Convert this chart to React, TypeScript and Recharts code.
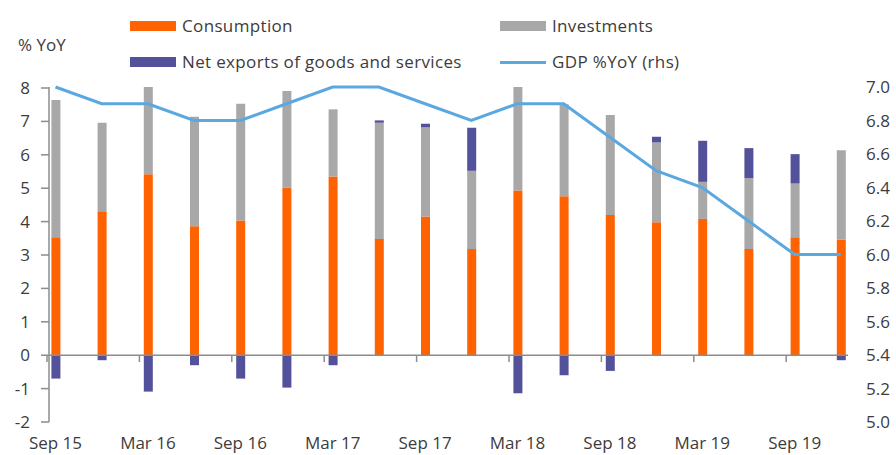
import React from "react";
import {
  ComposedChart,
  Bar,
  Line,
  XAxis,
  YAxis,
  ReferenceLine,
} from "recharts";

const quarters = [
  "Sep 15", "Dec 15", "Mar 16", "Jun 16", "Sep 16", "Dec 16",
  "Mar 17", "Jun 17", "Sep 17", "Dec 17", "Mar 18", "Jun 18",
  "Sep 18", "Dec 18", "Mar 19", "Jun 19", "Sep 19", "Dec 19",
];
const consumption = [3.53, 4.31, 5.42, 3.86, 4.03, 5.02, 5.35, 3.48, 4.15, 3.18, 4.93, 4.76, 4.2, 3.98, 4.08, 3.18, 3.53, 3.46];
const investments = [4.11, 2.65, 2.61, 3.28, 3.5, 2.89, 2.01, 3.48, 2.67, 2.34, 3.1, 2.75, 2.99, 2.39, 1.11, 2.12, 1.61, 2.68];
const netExports = [-0.7, -0.15, -1.09, -0.3, -0.7, -0.97, -0.3, 0.07, 0.11, 1.29, -1.14, -0.6, -0.47, 0.17, 1.23, 0.9, 0.88, -0.15];
const gdp = [7.0, 6.9, 6.9, 6.8, 6.8, 6.9, 7.0, 7.0, 6.9, 6.8, 6.9, 6.9, 6.7, 6.5, 6.4, 6.2, 6.0, 6.0];

const leftTicks = [-2, -1, 0, 1, 2, 3, 4, 5, 6, 7, 8];
const rightTicks = [5.0, 5.2, 5.4, 5.6, 5.8, 6.0, 6.2, 6.4, 6.6, 6.8, 7.0];

const data = quarters.map((q, i) => ({
  q,
  consumption: consumption[i],
  investments: investments[i],
  netExports: netExports[i],
  gdp: gdp[i],
}));

const ORANGE = "#FF6200";
const GREY = "#A8A8A8";
const PURPLE = "#525199";
const BLUE = "#5BA8E0";
const TEXT = "#3C3C3C";
const AXIS = "#8C8C8C";
const FONT = "'Open Sans', sans-serif";
const FS = 17;

const W = 896;
const H = 455;
const TOP = 87;
const BOTTOM_AXIS = 33;
const PLOT_H = H - TOP - BOTTOM_AXIS;
const X_TICK_MARGIN = 15;
// distance from plot bottom (-2) up to the zero line
const ZERO_UP = (PLOT_H * 2) / 10;

const XTick = (props: any) => {
  const { x, y, payload } = props;
  const axisY = y - X_TICK_MARGIN;
  return (
    <g>
      <line x1={x - 8.5} x2={x - 8.5} y1={axisY - ZERO_UP} y2={axisY - ZERO_UP + 7} stroke={AXIS} strokeWidth={1.5} />
      <text x={x} y={y} dy="0.71em" textAnchor="middle" fill={TEXT} fontSize={FS} fontFamily={FONT}>
        {payload.value}
      </text>
    </g>
  );
};

const legendItems = [
  { label: "Consumption", color: ORANGE, kind: "bar", left: 130, top: 21 },
  { label: "Investments", color: GREY, kind: "bar", left: 500, top: 21 },
  { label: "Net exports of goods and services", color: PURPLE, kind: "bar", left: 130, top: 57 },
  { label: "GDP %YoY (rhs)", color: BLUE, kind: "line", left: 500, top: 57 },
];

export default function App() {
  return (
    <div style={{ position: "fixed", left: 0, top: 0, width: W, height: H, background: "#fff", fontFamily: FONT }}>
      <ComposedChart
        width={W}
        height={H}
        data={data}
        stackOffset="sign"
        margin={{ top: TOP, right: 0, bottom: 0, left: 0 }}
      >
        <XAxis
          dataKey="q"
          interval={1}
          axisLine={false}
          tickLine={false}
          tickSize={0}
          tickMargin={X_TICK_MARGIN}
          height={BOTTOM_AXIS}
          padding={{ left: -16.6, right: -16 }}
          tick={<XTick />}
        />
        <YAxis
          yAxisId="left"
          domain={[-2, 8]}
          ticks={leftTicks}
          interval={0}
          width={49}
          tickSize={8}
          tickMargin={11}
          axisLine={{ stroke: AXIS, strokeWidth: 1.5 }}
          tickLine={{ stroke: AXIS, strokeWidth: 1.5 }}
          tick={{ fill: TEXT, fontSize: FS, fontFamily: FONT }}
        />
        <YAxis
          yAxisId="right"
          orientation="right"
          domain={[5, 7]}
          ticks={rightTicks}
          interval={0}
          width={48}
          tickSize={0}
          tickMargin={2}
          axisLine={false}
          tickLine={false}
          tickFormatter={(v: number) => v.toFixed(1)}
          tick={{ fill: TEXT, fontSize: FS, fontFamily: FONT, textAnchor: "start", dx: 16 }}
        />
        <Bar yAxisId="left" dataKey="consumption" stackId="a" fill={ORANGE} barSize={9} isAnimationActive={false} />
        <Bar yAxisId="left" dataKey="investments" stackId="a" fill={GREY} barSize={9} isAnimationActive={false} />
        <Bar yAxisId="left" dataKey="netExports" stackId="a" fill={PURPLE} barSize={9} isAnimationActive={false} />
        <ReferenceLine yAxisId="left" y={0} stroke={AXIS} strokeWidth={1.5} />
        <Line
          yAxisId="right"
          dataKey="gdp"
          type="linear"
          stroke={BLUE}
          strokeWidth={3}
          dot={false}
          isAnimationActive={false}
        />
      </ComposedChart>

      <div style={{ position: "absolute", left: 18, top: 33, fontSize: FS, color: TEXT }}>% YoY</div>

      {legendItems.map((it) => (
        <div
          key={it.label}
          style={{ position: "absolute", left: it.left, top: it.top, display: "flex", alignItems: "center", height: 10 }}
        >
          <div
            style={{
              width: 46,
              height: it.kind === "line" ? 3 : 10,
              background: it.color,
              marginRight: 6,
            }}
          />
          <span style={{ fontSize: FS, color: TEXT, whiteSpace: "nowrap", lineHeight: "10px", letterSpacing: 0.35 }}>
            {it.label}
          </span>
        </div>
      ))}
    </div>
  );
}
